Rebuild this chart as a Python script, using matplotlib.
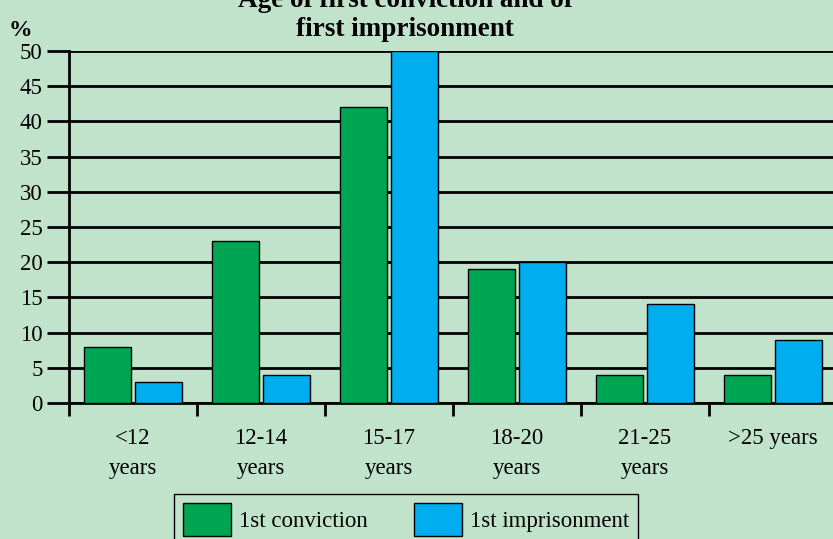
import numpy as np
import matplotlib
matplotlib.use('Agg')
import matplotlib.pyplot as plt
from matplotlib.patches import Patch

# datos
categorias = ['<12\nyears', '12-14\nyears', '15-17\nyears', '18-20\nyears', '21-25\nyears', '>25 years']
condena = [8, 23, 42, 19, 4, 4]
prision = [3, 4, 50, 20, 14, 9]
yticks = [0, 5, 10, 15, 20, 25, 30, 35, 40, 45, 50]

fondo = '#c2e3cb'
verde = '#00a551'
azul = '#00aeef'

plt.rcParams['font.family'] = ['Liberation Serif', 'DejaVu Serif']

fig = plt.figure(figsize=(8.33, 5.39), dpi=100)
fig.patch.set_facecolor(fondo)
ax = fig.add_axes([69 / 833, 1 - 403 / 539, 1 - 69 / 833, (403 - 51) / 539])
ax.set_facecolor(fondo)

x = np.arange(len(categorias))
ancho = 47 / 128
ax.bar(x + 15 / 128, condena, width=ancho, align='edge', color=verde,
       edgecolor='black', linewidth=1, zorder=3)
ax.bar(x + 66 / 128, prision, width=ancho, align='edge', color=azul,
       edgecolor='black', linewidth=1, zorder=3)

ax.set_xlim(0, (833 - 69) / 128)
ax.set_ylim(0, 50)
ax.set_yticks(yticks)
ax.set_yticklabels([str(v) for v in yticks], fontsize=16.5)
for v in yticks:
    ax.axhline(v, color='black', lw=2, zorder=2)
ax.tick_params(axis='y', length=16, width=2, pad=3, direction='out')
ax.set_xticks(x)
ax.set_xticklabels([])
ax.tick_params(axis='x', length=9, width=2, direction='out')

for s in ['top', 'right']:
    ax.spines[s].set_visible(False)
ax.spines['left'].set_linewidth(2)
ax.spines['bottom'].set_linewidth(2)

for i, cat in enumerate(categorias):
    ax.text(i + 0.5, -3.5, cat, ha='center', va='top', fontsize=16.5,
            linespacing=1.6)

fig.text(20 / 833, 1 - 30 / 539, '%', fontsize=17, fontweight='bold',
         ha='center', va='center')
fig.text(405 / 833, 1 - 15 / 539, 'Age of first conviction and of\nfirst imprisonment',
         fontsize=19.5, fontweight='bold', ha='center', va='center', linespacing=1.2)

handles = [Patch(facecolor=verde, edgecolor='black'), Patch(facecolor=azul, edgecolor='black')]
leg = fig.legend(handles, ['1st conviction', '1st imprisonment'], ncol=2,
                 loc='upper left', bbox_to_anchor=(174 / 833, 1 - 494 / 539),
                 fontsize=16.5, frameon=True, fancybox=False, framealpha=1,
                 handlelength=2.1, handleheight=1.8, handletextpad=0.35,
                 columnspacing=2.0, borderpad=0.4, borderaxespad=0)
leg.get_frame().set_facecolor(fondo)
leg.get_frame().set_edgecolor('black')
leg.get_frame().set_linewidth(1)

fig.savefig('out.png', dpi=100, facecolor=fondo)
